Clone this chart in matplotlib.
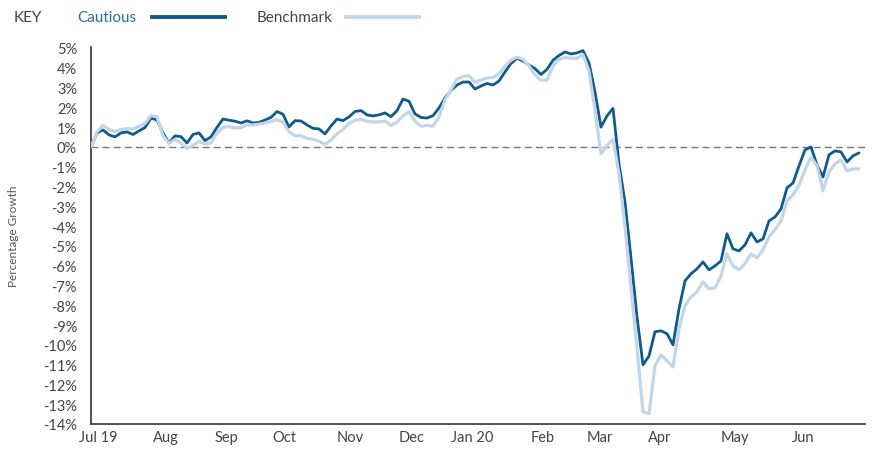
import matplotlib
matplotlib.use("Agg")
import matplotlib.pyplot as plt
from matplotlib.lines import Line2D
import numpy as np

plt.rcParams['font.family'] = ['Lato', 'DejaVu Sans']

# ---- data (percentage growth, sampled roughly every other trading day) ----
cautious = [0.00, 0.71, 0.86, 0.61, 0.51, 0.71, 0.76, 0.63, 0.81, 0.98,
            1.46, 1.36, 0.71, 0.20, 0.56, 0.52, 0.20, 0.63, 0.71, 0.32,
            0.51, 0.99, 1.41, 1.35, 1.30, 1.21, 1.32, 1.21, 1.24, 1.36,
            1.49, 1.79, 1.65, 1.01, 1.33, 1.31, 1.11, 0.94, 0.91, 0.66,
            1.06, 1.41, 1.33, 1.52, 1.79, 1.84, 1.62, 1.57, 1.62, 1.72,
            1.53, 1.83, 2.42, 2.31, 1.67, 1.49, 1.46, 1.58, 1.97, 2.47,
            2.85, 3.13, 3.28, 3.28, 2.93, 3.08, 3.21, 3.13, 3.33, 3.79,
            4.22, 4.48, 4.34, 4.14, 3.96, 3.66, 3.92, 4.38, 4.62, 4.80,
            4.70, 4.75, 4.87, 4.24, 2.78, 1.00, 1.57, 1.95, -0.86, -2.78,
            -5.61, -8.59, -11.01, -10.56, -9.34, -9.29, -9.44, -10.00, -8.18, -6.77,
            -6.41, -6.16, -5.81, -6.21, -6.01, -5.76, -4.39, -5.15, -5.25, -4.95,
            -4.34, -4.80, -4.65, -3.74, -3.54, -3.13, -2.07, -1.82, -0.96, -0.15,
            0.00, -0.91, -1.52, -0.40, -0.20, -0.25, -0.76, -0.45, -0.30]

benchmark = [0.00, 0.76, 1.09, 0.88, 0.78, 0.88, 0.93, 0.91, 1.04, 1.19,
             1.59, 1.52, 0.57, 0.18, 0.38, 0.20, -0.08, 0.07, 0.28, 0.15,
             0.20, 0.71, 0.98, 1.03, 0.96, 0.97, 1.11, 1.11, 1.15, 1.21,
             1.29, 1.38, 1.25, 0.76, 0.57, 0.56, 0.44, 0.39, 0.28, 0.13,
             0.35, 0.66, 0.88, 1.19, 1.35, 1.40, 1.30, 1.26, 1.27, 1.30,
             1.09, 1.26, 1.57, 1.78, 1.30, 1.04, 1.09, 1.05, 1.52, 2.37,
             2.88, 3.43, 3.56, 3.60, 3.27, 3.38, 3.48, 3.51, 3.69, 4.09,
             4.39, 4.54, 4.43, 4.09, 3.64, 3.37, 3.38, 4.09, 4.43, 4.52,
             4.48, 4.48, 4.66, 3.84, 1.82, -0.35, 0.07, 0.40, -1.36, -4.04,
             -7.17, -10.15, -13.38, -13.48, -11.06, -10.51, -10.81, -11.11, -9.19, -8.03,
             -7.58, -7.32, -6.82, -7.17, -7.12, -6.52, -5.40, -6.01, -6.21, -5.91,
             -5.40, -5.61, -5.20, -4.55, -4.19, -3.74, -2.73, -2.42, -1.92, -1.16,
             -0.51, -0.96, -2.22, -1.26, -0.86, -0.66, -1.21, -1.11, -1.11]

month_labels = ['Jul 19', 'Aug', 'Sep', 'Oct', 'Nov', 'Dec', 'Jan 20',
                'Feb', 'Mar', 'Apr', 'May', 'Jun']
month_pos = [1.2, 12.5, 22.5, 32.3, 43.2, 53.5, 63.5, 75.2, 84.8, 94.8, 107.3, 118.7]

y_ticks = list(range(5, -15, -1))

# ---- styling ----
DARK = '#0f5b8c'
LIGHT = '#c3d6e9'
TEXT = '#444444'

fig = plt.figure(figsize=(8.73, 4.52), dpi=100)
ax = fig.add_axes([91/873, 1 - 425/452, (865 - 91)/873, (425 - 48)/452])

x = np.arange(len(cautious))
ax.plot(x, cautious, color=DARK, lw=2.0, solid_capstyle='round', zorder=3)
ax.plot(np.arange(len(benchmark)), benchmark, color=LIGHT, lw=2.3,
        solid_capstyle='round', zorder=4)
ax.axhline(0, color='#777777', lw=1.0, ls=(0, (5, 3)), zorder=2)

ax.set_xlim(0, 129)
ax.set_ylim(-14, 5.05)
ax.set_yticks(y_ticks)
ax.set_yticklabels([f'{v}%' for v in y_ticks])
ax.set_xticks(month_pos)
ax.set_xticklabels(month_labels)
ax.tick_params(axis='y', length=0, pad=10, labelsize=10.5, labelcolor=TEXT)
ax.tick_params(axis='x', length=0, pad=4, labelsize=10.5, labelcolor=TEXT)

for s in ['top', 'right']:
    ax.spines[s].set_visible(False)
for s in ['left', 'bottom']:
    ax.spines[s].set_color('#333333')
    ax.spines[s].set_linewidth(1.2)

ax.set_ylabel('Percentage Growth', fontsize=8.5, color='#555555', labelpad=10)
ax.yaxis.set_label_coords(-0.093, 0.5)

# ---- key ----
fig.text(14/873, 1 - 18/452, 'KEY', fontsize=11, color=TEXT, va='center', ha='left')
fig.text(77/873, 1 - 18/452, 'Cautious', fontsize=11, color='#2a6c9c', va='center', ha='left')
fig.add_artist(Line2D([152/873, 225/873], [1 - 18/452, 1 - 18/452],
                      color=DARK, lw=2.8, transform=fig.transFigure))
fig.text(257/873, 1 - 18/452, 'Benchmark', fontsize=11, color=TEXT, va='center', ha='left')
fig.add_artist(Line2D([346/873, 419/873], [1 - 18/452, 1 - 18/452],
                      color=LIGHT, lw=2.8, transform=fig.transFigure))

fig.savefig('out.png', dpi=100)
